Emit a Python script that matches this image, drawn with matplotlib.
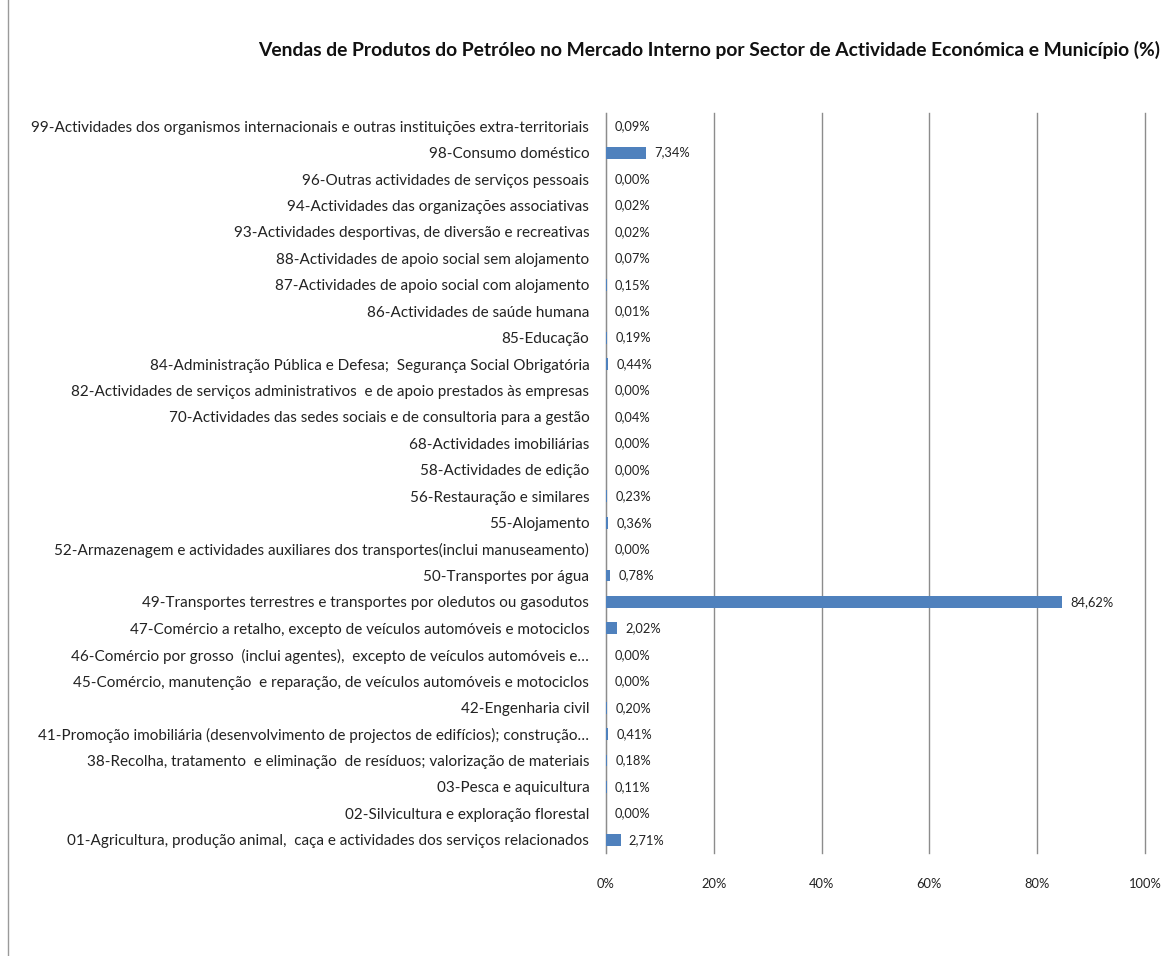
import matplotlib

matplotlib.use("Agg")

import matplotlib.pyplot as plt
from matplotlib.lines import Line2D
from matplotlib.ticker import FuncFormatter

plt.rcParams["font.family"] = ["Lato", "DejaVu Sans"]

TITLE = "Vendas de Produtos do Petróleo no Mercado Interno por Sector de Actividade Económica e Município (%)"

# bottom to top, as drawn
SECTORS = [
    "01-Agricultura, produção animal,  caça e actividades dos serviços relacionados",
    "02-Silvicultura e exploração florestal",
    "03-Pesca e aquicultura",
    "38-Recolha, tratamento  e eliminação  de resíduos; valorização de materiais",
    "41-Promoção imobiliária (desenvolvimento de projectos de edifícios); construção…",
    "42-Engenharia civil",
    "45-Comércio, manutenção  e reparação, de veículos automóveis e motociclos",
    "46-Comércio por grosso  (inclui agentes),  excepto de veículos automóveis e…",
    "47-Comércio a retalho, excepto de veículos automóveis e motociclos",
    "49-Transportes terrestres e transportes por oledutos ou gasodutos",
    "50-Transportes por água",
    "52-Armazenagem e actividades auxiliares dos transportes(inclui manuseamento)",
    "55-Alojamento",
    "56-Restauração e similares",
    "58-Actividades de edição",
    "68-Actividades imobiliárias",
    "70-Actividades das sedes sociais e de consultoria para a gestão",
    "82-Actividades de serviços administrativos  e de apoio prestados às empresas",
    "84-Administração Pública e Defesa;  Segurança Social Obrigatória",
    "85-Educação",
    "86-Actividades de saúde humana",
    "87-Actividades de apoio social com alojamento",
    "88-Actividades de apoio social sem alojamento",
    "93-Actividades desportivas, de diversão e recreativas",
    "94-Actividades das organizações associativas",
    "96-Outras actividades de serviços pessoais",
    "98-Consumo doméstico",
    "99-Actividades dos organismos internacionais e outras instituições extra-territoriais",
]
SHARES = [
    2.71, 0.00, 0.11, 0.18, 0.41, 0.20, 0.00, 0.00, 2.02, 84.62,
    0.78, 0.00, 0.36, 0.23, 0.00, 0.00, 0.04, 0.00, 0.44, 0.19,
    0.01, 0.15, 0.07, 0.02, 0.02, 0.00, 7.34, 0.09,
]
X_TICKS = [0, 20, 40, 60, 80, 100]

BAR_COLOR = "#4f81bd"
TEXT_COLOR = "#222222"

fig = plt.figure(figsize=(11.66, 9.56), dpi=100)
ax = fig.add_axes([0.5197, 0.1077, 0.4623, 0.7741])

ypos = list(range(len(SECTORS)))
ax.barh(ypos, SHARES, height=0.45, color=BAR_COLOR, zorder=3)
for y, v in zip(ypos, SHARES):
    ax.annotate(
        f"{v:.2f}%".replace(".", ","),
        xy=(v, y),
        xytext=(6, 0),
        textcoords="offset points",
        va="center",
        ha="left",
        fontsize=9.3,
        color=TEXT_COLOR,
    )

ax.set_xlim(0, 100)
ax.set_ylim(-0.5, len(SECTORS) - 0.5)
ax.set_yticks(ypos)
ax.set_yticklabels(SECTORS, fontsize=11, color=TEXT_COLOR)
ax.set_xticks(X_TICKS)
ax.xaxis.set_major_formatter(FuncFormatter(lambda v, _: f"{v:.0f}%"))
ax.tick_params(axis="x", length=0, pad=18, labelsize=9.3, labelcolor=TEXT_COLOR)
ax.tick_params(axis="y", length=0, pad=12)
ax.grid(axis="x", color="#8c8c8c", linewidth=1.0, zorder=0)
for gl in ax.get_xgridlines():
    gl.set_clip_on(False)
for side in ("top", "right", "bottom"):
    ax.spines[side].set_visible(False)
ax.spines["left"].set_color("#8c8c8c")

fig.text(0.221, 0.948, TITLE, fontsize=13.9, fontweight="bold", color="#111111",
         ha="left", va="center")
fig.add_artist(Line2D([0.007, 0.007], [0, 1], transform=fig.transFigure,
                      color="#9a9a9a", linewidth=1.0))

fig.savefig("out.png", dpi=100)
